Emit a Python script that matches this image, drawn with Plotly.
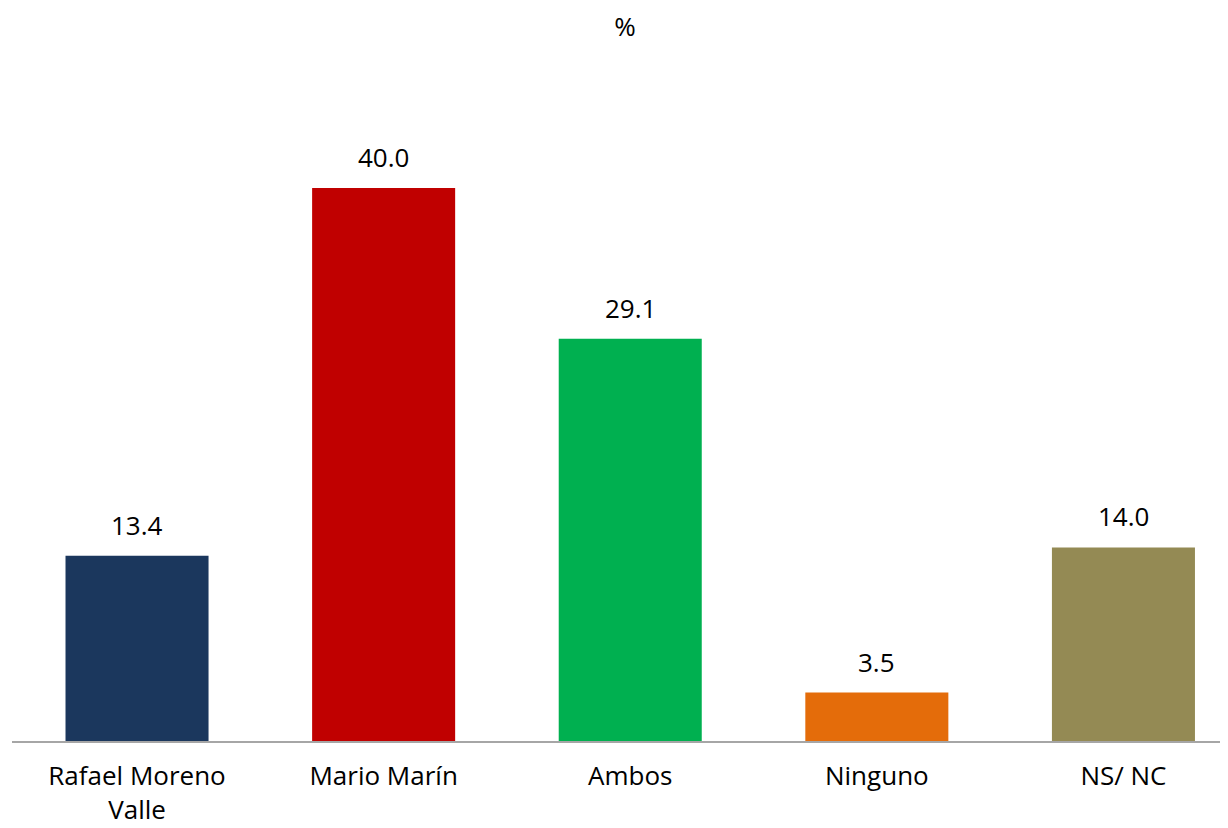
import plotly.graph_objects as go

# Categorias y valores (%)
categorias = ["Rafael Moreno<br>Valle", "Mario Marín", "Ambos", "Ninguno", "NS/ NC"]
valores = [13.4, 40.0, 29.1, 3.5, 14.0]
colores = ["#1B375D", "#C00000", "#00B050", "#E46C0A", "#948A54"]

fig = go.Figure(go.Bar(
    x=categorias,
    y=valores,
    marker=dict(color=colores, line=dict(width=0)),
    width=0.58,
    cliponaxis=False,
))

# etiquetas de valor sobre cada barra
for c, v in zip(categorias, valores):
    fig.add_annotation(x=c, y=v, text=f"{v:.1f}", showarrow=False,
                       yanchor="bottom", yshift=11, font=dict(size=26))

fig.update_layout(
    width=1228, height=828,
    paper_bgcolor="white", plot_bgcolor="white",
    font=dict(family="Open Sans, Noto Sans, sans-serif", size=26, color="#000000"),
    title=dict(text="%", x=0.5024, xanchor="center", y=0.977, yanchor="middle",
               font=dict(size=26)),
    margin=dict(l=4, r=8, t=111, b=95),
    showlegend=False,
)
fig.update_xaxes(showline=True, linecolor="#A6A6A6", linewidth=2, range=[-0.507, 4.424],
                 ticks="", tickfont=dict(size=26), ticklabelstandoff=11)
fig.update_yaxes(range=[0, 45], visible=False, showgrid=False, zeroline=False)

fig.write_html("out.html")
